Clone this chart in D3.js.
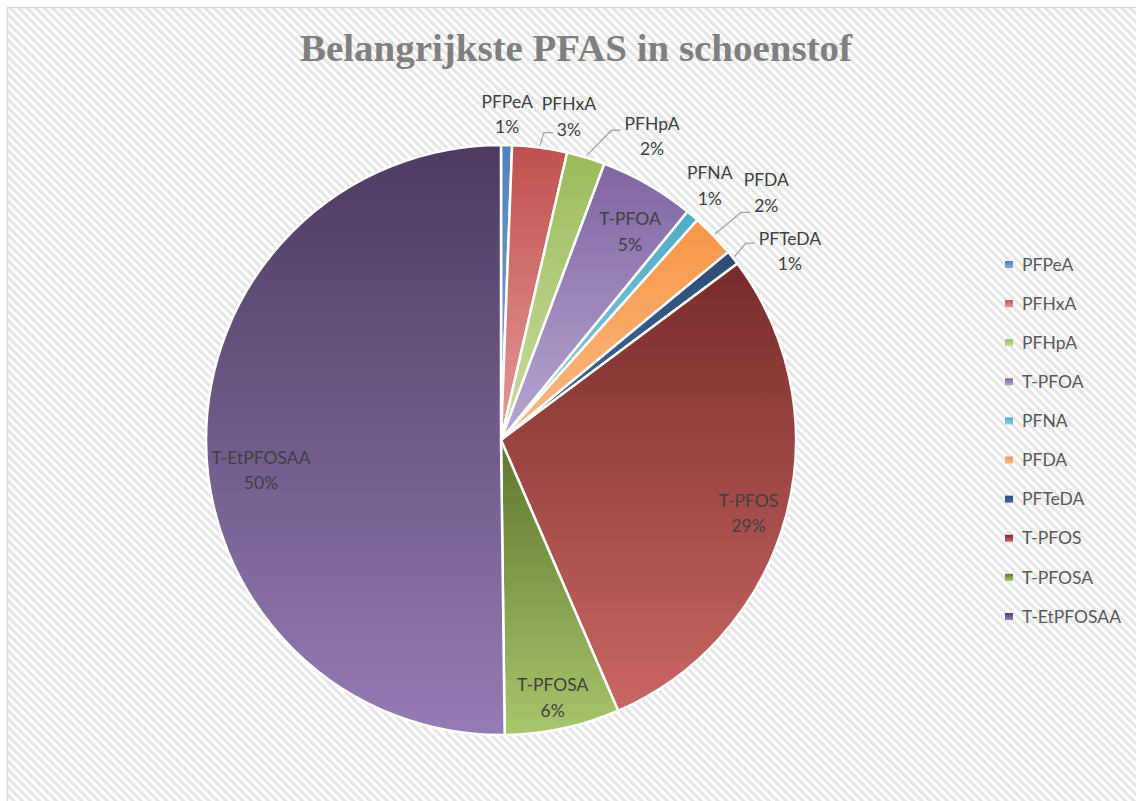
<!DOCTYPE html>
<html>
<head>
<meta charset="utf-8">
<script src="https://cdn.jsdelivr.net/npm/d3@7"></script>
<style>
  html, body { margin: 0; padding: 0; background: #fff; }
  svg { display: block; }
</style>
</head>
<body>
<div class="canvas"></div>
<script>
// Data
var categories = ['PFPeA', 'PFHxA', 'PFHpA', 'T-PFOA', 'PFNA', 'PFDA', 'PFTeDA', 'T-PFOS', 'T-PFOSA', 'T-EtPFOSAA'];
var shares = [0.6, 3.0, 2.1, 5.2, 0.7, 2.4, 0.8, 28.7, 6.3, 50.2];
var chartTitle = 'Belangrijkste PFAS in schoenstof';

// Style
var width = 1136,
    height = 801,
    midX = 501,
    midY = 440,
    radius = 295,
    topColors = ['#4f81bd', '#c0504d', '#9bbb59', '#8064a2', '#4bacc6', '#f79646', '#2c4d75', '#772c2a', '#5f7530', '#4d3b62'],
    bottomColors = ['#86aad8', '#e49c9a', '#cadda3', '#b8a8d2', '#90d0e2', '#fbbb85', '#44699a', '#ca6764', '#a8c66b', '#957bb4'],
    labelColor = '#404040',
    legendColor = '#595959',
    font = 'Lato, "Open Sans", sans-serif',
    fontSize = '17.5px';

// label placement: radius factor, angle nudge (deg), leader elbow offset (null = no leader)
var labelRadius = [1.105, 1.12, 1.15, 0.83, 1.115, 1.23, 1.17, 0.875, 0.89, 0.82],
    labelShift = [0, 4.3, 9.7, 1.9, -1.1, 0.9, 5.0, 1.5, 0.7, -6.8],
    leaderDy = [null, 16, -6, null, null, 20, -8, null, null, null],
    leaderLine = [null, 'pct', 'name', null, null, 'pct', 'name', null, null, null];

var svg = d3.select('.canvas').append('svg')
    .attr('width', width)
    .attr('height', height);

var defs = svg.append('defs');

// striped background
var stripes = defs.append('pattern')
    .attr('id', 'stripes')
    .attr('patternUnits', 'userSpaceOnUse')
    .attr('width', 6)
    .attr('height', 6)
    .attr('patternTransform', 'rotate(-45)');
stripes.append('rect').attr('width', 6).attr('height', 6).attr('fill', '#ffffff');
stripes.append('rect').attr('width', 3).attr('height', 6).attr('fill', '#e6e6e6');

categories.forEach(function (c, i) {
    var g = defs.append('linearGradient')
        .attr('id', 'grad' + i)
        .attr('x1', 0).attr('y1', 0).attr('x2', 0).attr('y2', 1);
    g.append('stop').attr('offset', '0%').attr('stop-color', topColors[i]);
    g.append('stop').attr('offset', '100%').attr('stop-color', bottomColors[i]);
});

svg.append('rect')
    .attr('width', width)
    .attr('height', height)
    .attr('fill', '#ffffff');

svg.append('rect')
    .attr('x', 7.5)
    .attr('y', 7.5)
    .attr('width', width + 20)
    .attr('height', height + 20)
    .attr('fill', 'url(#stripes)')
    .attr('stroke', '#d9d9d9')
    .attr('stroke-width', 1.5);

// Title
svg.append('text')
    .attr('x', 576)
    .attr('y', 61)
    .attr('text-anchor', 'middle')
    .attr('textLength', 552)
    .attr('lengthAdjust', 'spacingAndGlyphs')
    .style('font-family', '"Liberation Serif", "DejaVu Serif", serif')
    .style('font-weight', 'bold')
    .style('font-size', '37px')
    .style('fill', '#808080')
    .text(chartTitle);

// Pie
var pie = d3.pie().sort(null).value(function (d) { return d; });
var arcs = pie(shares);
var total = d3.sum(shares);
var arc = d3.arc().innerRadius(0).outerRadius(radius);

var chart = svg.append('g').attr('transform', 'translate(' + midX + ',' + midY + ')');

chart.selectAll('path.slice')
    .data(arcs)
    .enter()
    .append('path')
    .attr('class', 'slice')
    .attr('d', arc)
    .attr('fill', function (d, i) { return 'url(#grad' + i + ')'; })
    .attr('stroke', '#ffffff')
    .attr('stroke-width', 2.5)
    .attr('stroke-linejoin', 'round');

function polar(angle, r) {
    return [r * Math.sin(angle), -r * Math.cos(angle)];
}

// Data labels
chart.selectAll('g.label')
    .data(arcs)
    .enter()
    .append('g')
    .attr('class', 'label')
    .each(function (d, i) {
        var mid = (d.startAngle + d.endAngle) / 2;
        var p = polar(mid + labelShift[i] * Math.PI / 180, radius * labelRadius[i]);
        var g = d3.select(this);
        var name = g.append('text')
            .attr('x', p[0]).attr('y', p[1] - 12.5)
            .attr('dy', '0.35em')
            .attr('text-anchor', 'middle')
            .style('font-family', font)
            .style('font-size', fontSize)
            .style('fill', labelColor)
            .text(categories[i]);
        var pct = g.append('text')
            .attr('x', p[0]).attr('y', p[1] + 13)
            .attr('dy', '0.35em')
            .attr('text-anchor', 'middle')
            .style('font-family', font)
            .style('font-size', fontSize)
            .style('fill', labelColor)
            .text(Math.round(d.value / total * 100) + '%');

        if (leaderDy[i] !== null) {
            var ref = leaderLine[i] === 'pct' ? pct : name;
            var w = ref.node().getComputedTextLength();
            var ex = p[0] - w / 2 - 4,
                ey = p[1] + leaderDy[i];
            var a = polar(mid, radius + 2);
            chart.insert('polyline', 'g.label')
                .attr('points', [[ex, ey], [ex - 9, ey], a].map(function (q) { return q.join(','); }).join(' '))
                .attr('fill', 'none')
                .attr('stroke', '#a6a6a6')
                .attr('stroke-width', 1.3);
        }
    });

// Legend
var legendY = d3.scalePoint()
    .domain(categories)
    .range([264.5, 616.5]);

var legend = svg.append('g').selectAll('g')
    .data(categories)
    .enter()
    .append('g')
    .attr('transform', function (d) { return 'translate(1005,' + legendY(d) + ')'; });

legend.append('rect')
    .attr('x', 0).attr('y', -3.5)
    .attr('width', 8).attr('height', 7)
    .attr('fill', function (d, i) { return 'url(#grad' + i + ')'; });

legend.append('text')
    .attr('x', 17)
    .attr('y', 0)
    .attr('dy', '0.35em')
    .style('font-family', font)
    .style('font-size', fontSize)
    .style('fill', legendColor)
    .text(function (d) { return d; });
</script>
</body>
</html>
